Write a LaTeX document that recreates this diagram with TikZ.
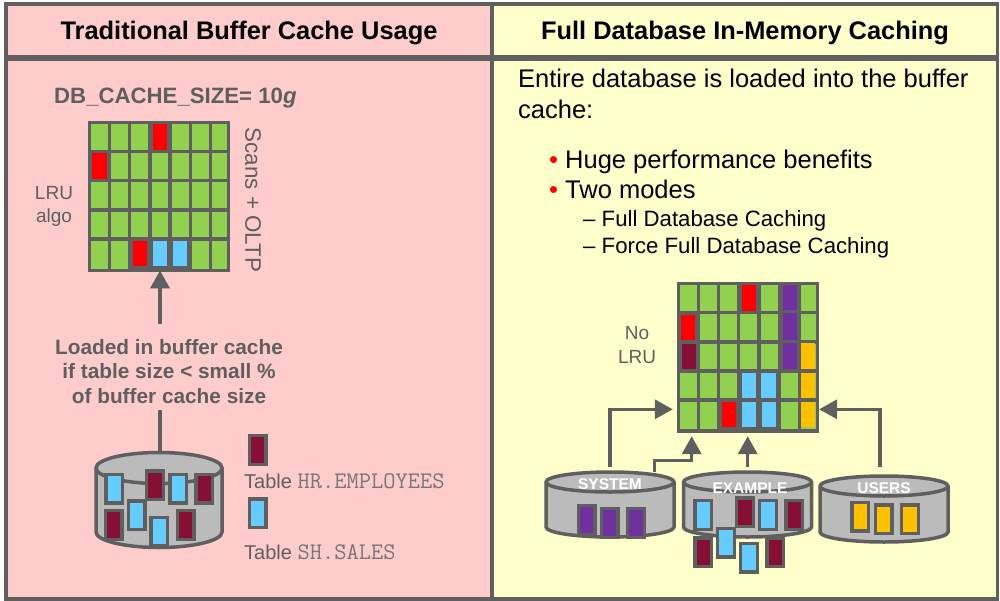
\documentclass[tikz,border=0pt]{standalone}
\usepackage{fontspec}
\setmainfont{Liberation Sans}
\usetikzlibrary{arrows.meta}
\definecolor{gr}{HTML}{5F5F5F}
\definecolor{pinkbg}{HTML}{FFCCCC}
\definecolor{yelbg}{HTML}{FFFFCC}
\definecolor{cgreen}{HTML}{92D050}
\definecolor{cblue}{HTML}{66CCFF}
\definecolor{cmar}{HTML}{860F35}
\definecolor{cpur}{HTML}{7030A0}
\definecolor{corg}{HTML}{FFC000}
\definecolor{dbf}{HTML}{BBBBBB}
\tikzset{
  x=1pt,y=-1pt,
  line/.style={draw=gr,line width=3.5pt},
  arr/.style={line,-{Triangle[length=18pt,width=19pt]}},
  lbl/.style={text=gr,inner sep=0pt,font=\fontsize{19}{23.5}\selectfont},
  boldlbl/.style={text=gr,inner sep=0pt,align=center,font=\fontsize{20.8}{24.5}\selectfont\bfseries},
  head/.style={text=black,inner sep=0pt,font=\fontsize{25.4}{30}\selectfont\bfseries},
  dbname/.style={text=white,inner sep=0pt,font=\fontsize{15.5}{18}\selectfont\bfseries},
  body/.style={text=black,inner sep=0pt,anchor=base west,font=\fontsize{25.5}{30}\selectfont},
  sub/.style={text=black,inner sep=0pt,anchor=base west,font=\fontsize{22.2}{26}\selectfont},
  gridbox/.style={fill=gr,inner sep=0pt,anchor=north west},
}
% x1 y1 x2 y2 colour
\newcommand{\cel}[5]{\fill[#5] (#1,#2) rectangle (#3,#4);}
% framed table: outer left, outer top, colour
\newcommand{\tbl}[3]{\draw[draw=gr,line width=3.5pt,fill=#3] (#1+1.7,#2+1.7) rectangle ++(16.6,28.6);}
% db: cx, side top y, half width, side height, ry
\newcommand{\db}[5]{%
  \draw[draw=gr,line width=3.5pt,fill=dbf]
    (#1-#3,#2) -- ++(0,#4) arc[x radius=#3,y radius=#5,start angle=180,end angle=0]
    -- ++(0,-#4) arc[x radius=#3,y radius=#5,start angle=0,end angle=-180] -- cycle;
  \draw[draw=gr,line width=3.5pt] (#1-#3,#2) arc[x radius=#3,y radius=#5,start angle=180,end angle=0];
}
\begin{document}
\begin{tikzpicture}
\useasboundingbox (0,0) rectangle (1000,601);
\fill[white] (0,0) rectangle (1000,601);
% panels
\fill[pinkbg] (6,4) rectangle (492,598);
\fill[yelbg] (492,4) rectangle (997,598);
\draw[draw=gr,line width=3.6pt] (5.8,3.8) rectangle (997.5,598.8);
\draw[draw=gr,line width=3.6pt] (492.2,3.8) -- (492.2,598.8);
\fill[gr] (5.8,55) rectangle (997.5,61);
\node[head] (h1) at (249,33) {Traditional Buffer Cache Usage};
\node[head] (h2) at (745,33) {Full Database In-Memory Caching};
% left
\node[text=gr,inner sep=0pt,anchor=base west,font=\fontsize{22.2}{26}\selectfont\bfseries] (size) at (54,104) {DB\_CACHE\_SIZE= 10\textit{g}};
\node[gridbox,minimum width=142pt,minimum height=151pt] (lgrid) at (88,121) {};
\foreach \xa/\xb in {90.7/108.3,111/128.3,131.3/148.3,151.7/168.3,172/189,192.3/209.3,212.3/227.3}
  \foreach \ya/\yb in {124/150,153.3/179,182.3/208,211.7/237.3,240.7/269}
    {\cel{\xa}{\ya}{\xb}{\yb}{cgreen}}
\fill[gr] (151.7,124) rectangle (168.3,150);
\cel{153.3}{124}{166.7}{150}{red}
\fill[gr] (90.7,153.3) rectangle (108.3,179);
\cel{92.3}{153.3}{107}{179}{red}
\fill[gr] (131.3,240.7) rectangle (189,269);
\cel{133}{241.3}{147}{266.3}{red}
\cel{153.3}{241.3}{167.3}{266.3}{cblue}
\cel{173}{241.3}{187.3}{266.3}{cblue}
\node[lbl,align=center] (lru) at (54,206.5) {LRU\\algo};
\node[lbl,rotate=-90,font=\fontsize{22.4}{26}\selectfont] (scans) at (253,200) {Scans + OLTP};
\node[boldlbl] (loaded) at (169,371.5) {Loaded in buffer cache\\if table size < small \%\\of buffer cache size};
\coordinate (dbL) at (160,452);
\coordinate (dbLb) at (160,410);
\coordinate (arrL) at (160,324);
\db{159}{468}{63}{64}{15.5}
\draw[line] (dbL) -- (dbLb);
\draw[arr,shorten >=-2pt] (arrL) -- (lgrid.south -| arrL);
\tbl{104.3}{472.7}{cblue}
\tbl{145}{469.3}{cmar}
\tbl{168.3}{472.7}{cblue}
\tbl{194.3}{472.7}{cmar}
\tbl{103.7}{509}{cmar}
\tbl{126.7}{499.3}{cblue}
\tbl{149.3}{515.7}{cblue}
\tbl{175.7}{509}{cmar}
\tbl{247.7}{434}{cmar}
\tbl{247.7}{497.3}{cblue}
\node[lbl,anchor=base west,font=\fontsize{20}{24}\selectfont] (t1) at (244,488) {Table {\ttfamily\fontsize{23.8}{24}\selectfont\color{gr!85} HR.EMPLOYEES}};
\node[lbl,anchor=base west,font=\fontsize{20}{24}\selectfont] (t2) at (244,559) {Table {\ttfamily\fontsize{23.8}{24}\selectfont\color{gr!85} SH.SALES}};
% right text
\node[body] (b1) at (518,88) {Entire database is loaded into the buffer};
\node[body] (b2) at (518,119) {cache:};
\node[body,text=red] (d1) at (549,169) {•};
\node[body] (b3) at (565,169) {Huge performance benefits};
\node[body,text=red] (d2) at (549,199) {•};
\node[body] (b4) at (565,199) {Two modes};
\node[sub] (s1) at (583,227) {– Full Database Caching};
\node[sub] (s2) at (583,254) {– Force Full Database Caching};
% right grid
\node[gridbox,minimum width=142.4pt,minimum height=150.6pt] (rgrid) at (676.3,281.7) {};
\foreach \xa/\xb in {679.7/696.7,700/716.7,720/737,740.3/757.3,760.7/777.7,781/797.7,801/815.7}
  \foreach \ya/\yb in {285/311,314.3/340,343.7/369.3,373/398.3,402/429}
    {\cel{\xa}{\ya}{\xb}{\yb}{cgreen}}
\fill[gr] (740.3,285) rectangle (757.3,311);
\cel{741.7}{285.5}{756}{311}{red}
\fill[gr] (679.7,314.3) rectangle (696.7,340);
\cel{681}{315}{695.3}{340}{red}
\fill[gr] (679.7,343.7) rectangle (696.7,369.3);
\cel{682}{344}{696}{369.3}{cmar}
\fill[gr] (781,283) rectangle (797.7,369.3);
\cel{783}{285}{797}{310}{cpur}
\cel{783}{313}{797}{340}{cpur}
\cel{783}{343}{797}{369}{cpur}
\cel{801}{343}{815}{369}{corg}
\cel{801}{373}{815}{398.3}{corg}
\cel{801}{402}{815}{427}{corg}
\fill[gr] (720,402) rectangle (777.7,429);
\cel{721.7}{402}{736}{427}{red}
\cel{742}{402}{756}{427}{cblue}
\cel{762}{402}{776}{427}{cblue}
\fill[gr] (740.3,373) rectangle (777.7,398.3);
\cel{741.7}{373}{755.5}{398.3}{cblue}
\cel{761.3}{373}{775.5}{398.3}{cblue}
\node[lbl,align=center] (nolru) at (637,345) {No\\LRU};
% dbs
\db{610}{482}{64}{45}{10}
\db{747.5}{482}{64}{45}{10}
\db{884}{486}{64}{46}{10}
\node[dbname] (n1) at (610,484) {SYSTEM};
\node[dbname] (n2) at (750,488) {EXAMPLE};
\node[dbname] (n3) at (884,488) {USERS};
\coordinate (a1) at (610,467);
\coordinate (a2) at (654.3,471.7);
\coordinate (a3) at (747.7,467);
\coordinate (a4) at (880,467);
\coordinate (e1) at (691.7,460.7);
\draw[arr,shorten >=3.5pt] (a1) |- (rgrid.west |- 0,409.3);
\draw[arr,shorten >=3.5pt] (a2) |- (e1) -- (e1 |- rgrid.south);
\draw[arr,shorten >=3.5pt] (a3) -- (a3 |- rgrid.south);
\draw[arr] (a4) |- (rgrid.east |- 0,409.3);
\tbl{576.7}{504}{cpur}
\tbl{599.7}{507}{cpur}
\tbl{626}{507}{cpur}
\tbl{693.3}{499}{cblue}
\tbl{735}{496.3}{cmar}
\tbl{758}{499}{cblue}
\tbl{784.3}{499}{cmar}
\tbl{693.3}{536.3}{cmar}
\tbl{716}{526.7}{cblue}
\tbl{739}{541.7}{cblue}
\tbl{765.3}{536.3}{cmar}
\tbl{850.3}{500.7}{corg}
\tbl{873.7}{503.3}{corg}
\tbl{900}{503.3}{corg}
\end{tikzpicture}
\end{document}
